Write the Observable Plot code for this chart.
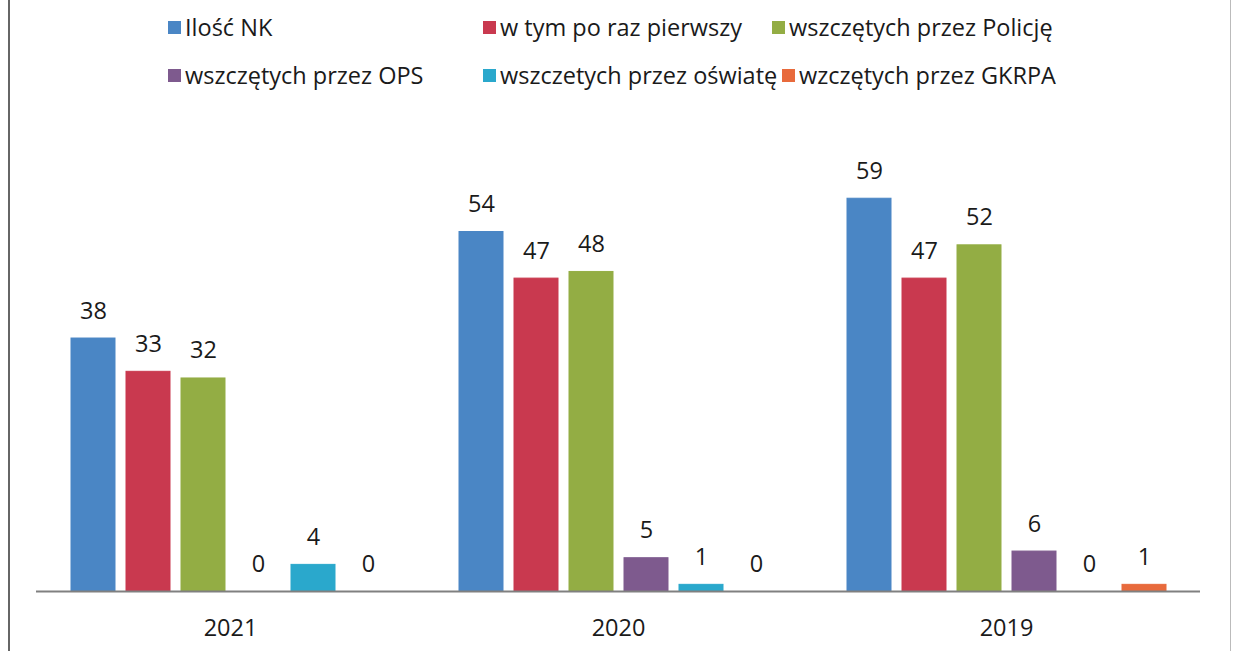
<!DOCTYPE html>
<html>
<head>
<meta charset="utf-8">
<script src="https://cdn.jsdelivr.net/npm/d3@7"></script>
<script src="https://cdn.jsdelivr.net/npm/@observablehq/plot@0.6"></script>
<style>
  html, body { margin: 0; padding: 0; background: #fff; }
  #wrap { position: relative; width: 1233px; height: 651px; overflow: hidden; font-family: "Open Sans", "Noto Sans", sans-serif; color: #1a1a1a; }
  #lborder { position: absolute; left: 8px; top: 0; width: 2px; height: 651px; background: #666; }
  #rborder { position: absolute; left: 1230px; top: 0; width: 1px; height: 651px; background: #bbb; }
  .leg { position: absolute; font-size: 23.5px; line-height: 28px; white-space: nowrap; }
  .leg span.sw { display: inline-block; width: 13px; height: 13px; margin-right: 4px; vertical-align: 2px; }
  #chart { position: absolute; left: 0; top: 100px; }
</style>
</head>
<body>
<div id="wrap">
  <div id="lborder"></div>
  <div id="rborder"></div>
  <div id="legend"></div>
  <div id="chart"></div>
</div>
<script>
const years = ["2021", "2020", "2019"];
const series = [
  "Ilość NK",
  "w tym po raz pierwszy",
  "wszczętych przez Policję",
  "wszczętych przez OPS",
  "wszczetych przez oświatę",
  "wzczętych przez GKRPA"
];
const colors = ["#4a86c5", "#c9394f", "#93ad44", "#7e5a8e", "#2aa8cc", "#e86a3c"];
const iloscNK = [38, 54, 59];
const poRazPierwszy = [33, 47, 47];
const przezPolicje = [32, 48, 52];
const przezOPS = [0, 5, 6];
const przezOswiate = [4, 1, 0];
const przezGKRPA = [0, 0, 1];

const seriesValues = [iloscNK, poRazPierwszy, przezPolicje, przezOPS, przezOswiate, przezGKRPA];
const data = [];
years.forEach((yr, i) => {
  series.forEach((s, j) => {
    data.push({ year: yr, series: s, value: seriesValues[j][i] });
  });
});

// Legend (HTML)
const legendPos = [
  [168, 13], [483, 13], [772, 13],
  [168, 61], [483, 61], [782, 61]
];
const legend = document.getElementById("legend");
series.forEach((s, j) => {
  const d = document.createElement("div");
  d.className = "leg";
  d.style.left = legendPos[j][0] + "px";
  d.style.top = legendPos[j][1] + "px";
  d.innerHTML = `<span class="sw" style="background:${colors[j]}"></span>`;
  d.appendChild(document.createTextNode(s));
  legend.appendChild(d);
});

const chart = Plot.plot({
  width: 1233,
  height: 551,
  marginLeft: 36,
  marginRight: 33,
  marginTop: 25,
  marginBottom: 60,
  style: { fontFamily: "'Open Sans', 'Noto Sans', sans-serif", fontSize: "23.5px", color: "#1a1a1a", background: "transparent" },
  fx: { domain: years, paddingInner: 0, paddingOuter: 0, label: null },
  x: { domain: series, paddingInner: 0.207, paddingOuter: 0.6, axis: null },
  y: { domain: [0, 70], axis: null },
  color: { domain: series, range: colors },
  marks: [
    Plot.barY(data, { fx: "year", x: "series", y: "value", fill: "series", stroke: "series", strokeOpacity: 1, strokeWidth: 1 }),
    Plot.ruleY([0], { stroke: "#808080", strokeWidth: 2 }),
    Plot.text(data, { fx: "year", x: "series", y: "value", text: d => String(d.value), dy: -20, lineAnchor: "bottom", fontSize: 23.5, fill: "#1a1a1a" }),
    Plot.axisFx({ anchor: "bottom", tickSize: 0, tickPadding: 28, fontSize: 23.5, label: null })
  ]
});
document.getElementById("chart").appendChild(chart);
</script>
</body>
</html>
